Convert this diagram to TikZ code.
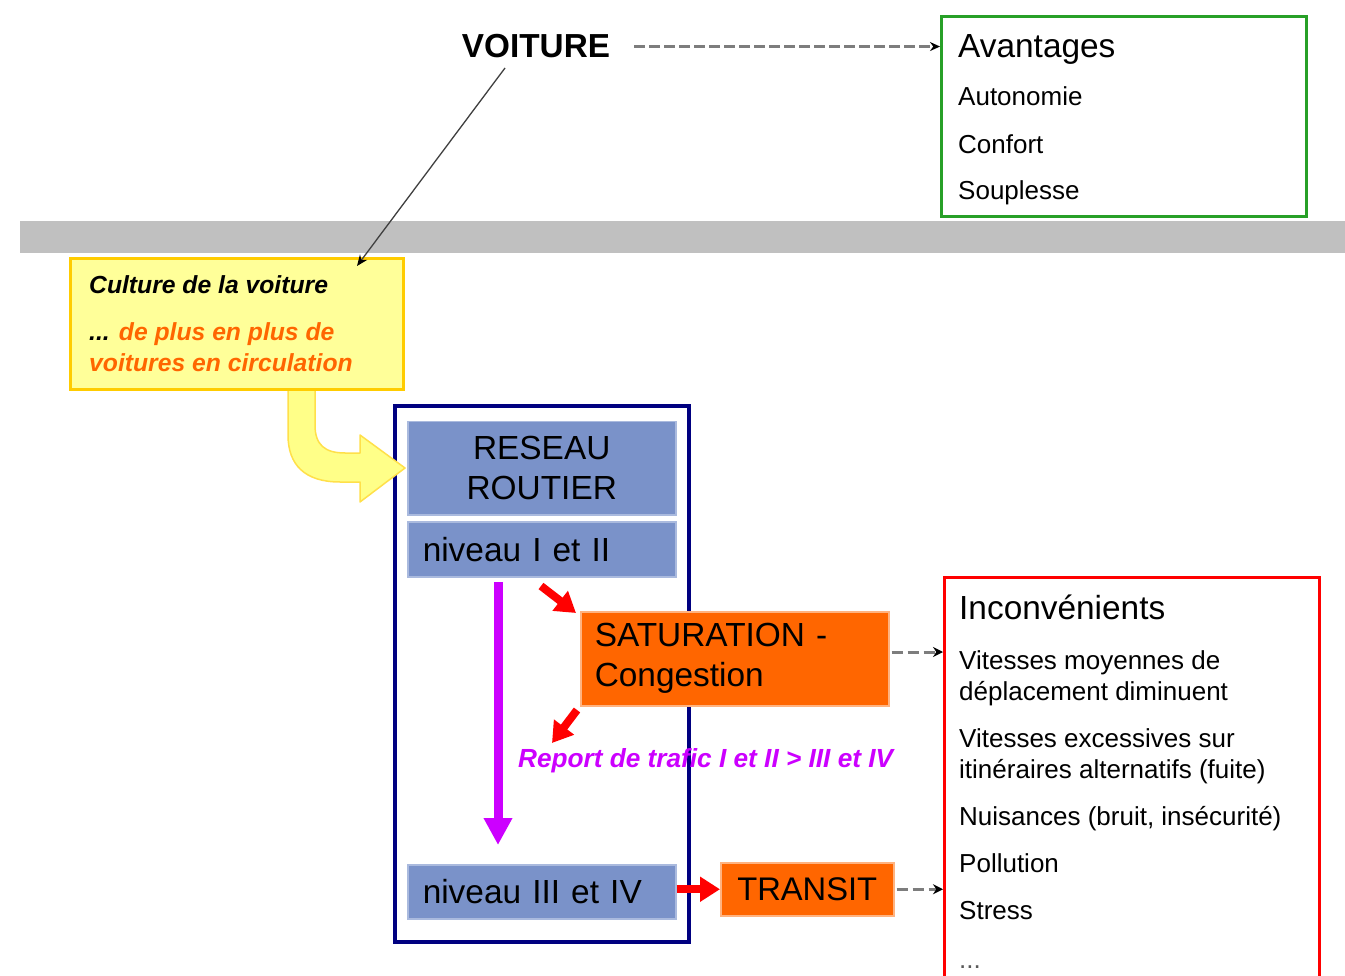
\documentclass[tikz,border=0pt]{standalone}
\usepackage{fontspec}
\setmainfont{Liberation Sans}
\usetikzlibrary{arrows.meta}
\definecolor{navyb}{HTML}{000080}
\definecolor{agreen}{RGB}{40,160,40}
\definecolor{bandgray}{RGB}{192,192,192}
\definecolor{yfill}{HTML}{FFFF99}
\definecolor{ygold}{HTML}{FFCC00}
\definecolor{yarrow}{HTML}{FFFF88}
\definecolor{yarrowb}{HTML}{FFE04A}
\definecolor{bfill}{RGB}{122,146,201}
\definecolor{bedge}{RGB}{170,186,222}
\definecolor{ofill}{HTML}{FF6600}
\definecolor{oedge}{HTML}{FFB380}
\definecolor{otxt}{HTML}{FF6600}
\definecolor{purp}{HTML}{CC00FF}
\definecolor{dgray}{RGB}{125,125,125}
\begin{document}
\begin{tikzpicture}[x=1pt,y=-1pt,
  txt/.style={anchor=base west, inner sep=0pt, align=left},
  bigf/.style={font=\fontsize{33.4}{40}\selectfont},
  smallf/.style={font=\fontsize{26}{31}\selectfont},
  cultf/.style={font=\bfseries\itshape\fontsize{24.7}{31}\selectfont},
  framebox/.style={anchor=north west, inner sep=0pt},
  bluebox/.style={anchor=north west, fill=bfill, draw=bedge, line width=1.5pt, inner sep=0pt, bigf},
  orangebox/.style={anchor=north west, fill=ofill, draw=oedge, line width=1.5pt, inner sep=0pt, bigf},
  dasharr/.style={draw=dgray, line width=3pt, dash pattern=on 11pt off 5pt, -{Stealth[length=10pt,width=10pt,black]}},
  thindash/.style={draw=dgray, line width=2.2pt, dash pattern=on 11pt off 4pt, -{Stealth[length=10pt,width=9pt,black]}},
  thinarr/.style={draw=black!75, line width=1.3pt, -{Stealth[length=11pt,width=9pt,black]}},
  redarr/.style={draw=red, line width=8pt, -{Triangle[width=24pt,length=20pt]}},
  purparr/.style={draw=purp, line width=9pt, -{Triangle[width=27pt,length=27pt]}}
]
\useasboundingbox (0,0) rectangle (1345,976);
\fill[white] (0,0) rectangle (1345,976);

% grey band
\fill[bandgray] (20,221) rectangle (1345,253);

% VOITURE
\node[anchor=base, inner sep=0pt, font=\bfseries\fontsize{33.3}{40}\selectfont] (voiture) at (536,58) {VOITURE};

% Avantages
\node[framebox, draw=agreen, line width=3pt, minimum width=365pt, minimum height=200pt] (avbox) at (940,15) {};
\node[txt, bigf] (avt) at (958,58) {Avantages};
\node[txt, smallf] (av1) at (958,106) {Autonomie};
\node[txt, smallf] (av2) at (958,154) {Confort};
\node[txt, smallf] (av3) at (958,200) {Souplesse};

\draw[thindash, shorten <=24pt] (voiture.east) -- (avbox.west |- voiture.east);

% outer blue frame
\node[framebox, draw=navyb, line width=4pt, minimum width=294pt, minimum height=536pt] (outer) at (393,404) {};

% yellow curved arrow
\draw[fill=yarrow, draw=yarrowb, line width=1.5pt, line join=round]
  (315,386) -- (315,425) .. controls (315,445) and (325,453) .. (345,453)
  -- (360,453) -- (360,435) -- (405,468) -- (360,502) -- (360,482) -- (340,482)
  .. controls (305,482) and (288,465) .. (288,435) -- (288,386) -- cycle;

% culture box
\node[framebox, draw=ygold, fill=yfill, line width=3pt, minimum width=333pt, minimum height=131pt] (cult) at (69,257) {};
\node[txt, cultf] (c1) at (89,294) {Culture de la voiture};
\node[txt, cultf] (c2) at (89,372) {... \textcolor{otxt}{de plus en plus de}\\\textcolor{otxt}{voitures en circulation}};

\coordinate (vl1) at (505,68);
\coordinate (vl2) at (357,266);
\draw[thinarr] (vl1) -- (vl2);

% blue boxes
\node[bluebox, minimum width=268pt, minimum height=93pt, align=center] (reseau) at (407,421) {RESEAU\\ROUTIER};
\node[bluebox, minimum height=55pt, text width=238pt, inner xsep=15pt, align=left] (niv1) at (407,521) {niveau I et II};
\node[bluebox, minimum height=54pt, text width=238pt, inner xsep=15pt, align=left] (niv3) at (407,864) {niveau III et IV};

% orange boxes
\node[orangebox, minimum height=94pt, text width=280pt, inner xsep=14pt, align=left] (sat) at (580,611) {SATURATION -\\Congestion};
\node[orangebox, minimum width=173pt, minimum height=53pt, font=\fontsize{32.7}{40}\selectfont] (transit) at (720,862) {TRANSIT};

% purple arrow
\coordinate (p1) at (498,582);
\coordinate (p2) at (498,845);
\draw[purparr] (p1) -- (p2);

% red arrows
\coordinate (r1a) at (541,586);
\coordinate (r1b) at (576,613);
\coordinate (r2a) at (577,710);
\coordinate (r2b) at (552,743);
\draw[redarr] (r1a) -- (r1b);
\draw[redarr] (r2a) -- (r2b);
\draw[redarr] (niv3.east |- transit.west) coordinate (r3a) -- (transit.west);

% report text
\node[txt, font=\bfseries\itshape\fontsize{26.2}{31}\selectfont, text=purp] (report) at (518,767) {Report de trafic I et II > III et IV};

% Inconvenients box
\begin{scope}
\clip (0,0) rectangle (1345,976);
\node[framebox, draw=red, line width=3pt, minimum width=375pt, minimum height=440pt] (incbox) at (943,576) {};
\end{scope}
\node[txt, bigf] (inct) at (959,619) {Inconvénients};
\node[txt, smallf] (i1) at (959,700) {Vitesses moyennes de\\déplacement diminuent};
\node[txt, smallf] (i2) at (959,778) {Vitesses excessives sur\\itinéraires alternatifs (fuite)};
\node[txt, smallf] (i3) at (959,825) {Nuisances (bruit, insécurité)};
\node[txt, smallf] (i4) at (959,872) {Pollution};
\node[txt, smallf] (i5) at (959,919) {Stress};
\node[txt, smallf, text=black!65] (i6) at (959,968) {...};

% dashed connectors
\draw[dasharr, shorten <=2pt] (sat.east |- 0,652) -- (incbox.west |- 0,652);
\draw[dasharr, shorten <=2pt] (transit.east) -- (incbox.west |- transit.east);
\end{tikzpicture}
\end{document}
